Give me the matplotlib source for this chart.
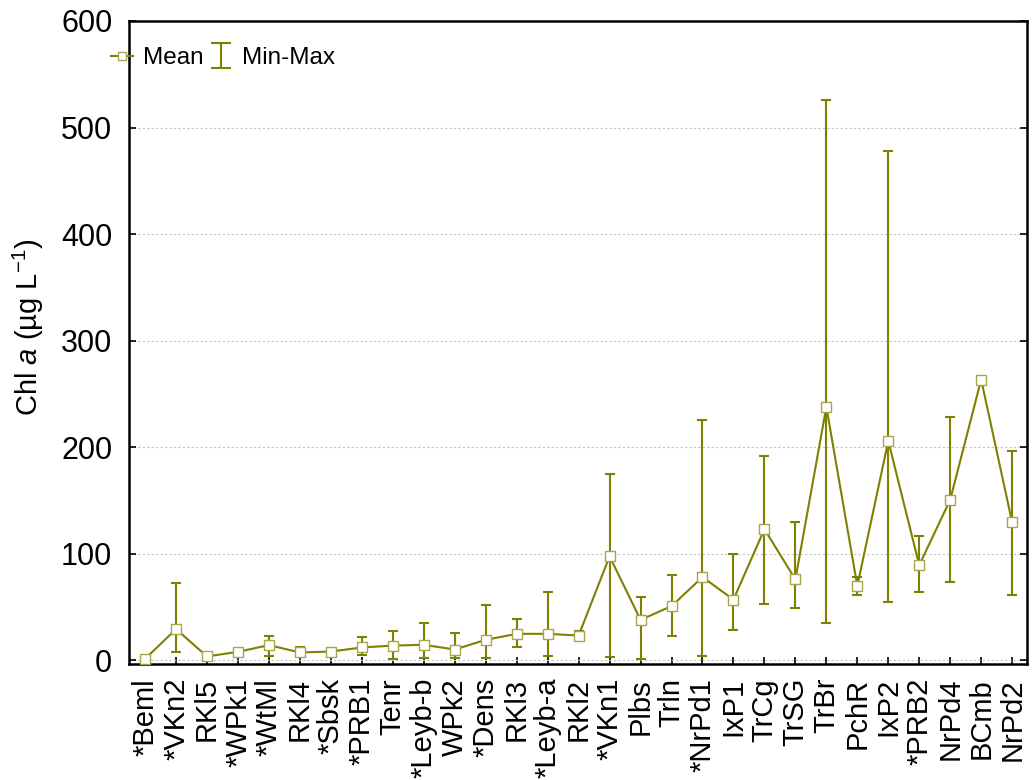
import numpy as np
import matplotlib
matplotlib.use("Agg")
import matplotlib.pyplot as plt
from matplotlib.lines import Line2D
from matplotlib.legend_handler import HandlerErrorbar

plt.rcParams["font.family"] = ["Liberation Sans", "DejaVu Sans"]
plt.rcParams["mathtext.fontset"] = "custom"
plt.rcParams["mathtext.rm"] = "Liberation Sans"
plt.rcParams["mathtext.it"] = "Liberation Sans:italic"

# sites, ordered as in the figure
sites = ["*Beml", "*VKn2", "RKl5", "*WPk1", "*WtMl", "RKl4", "*Sbsk", "*PRB1",
         "Tenr", "*Leyb-b", "WPk2", "*Dens", "RKl3", "*Leyb-a", "RKl2", "*VKn1",
         "Plbs", "Trln", "*NrPd1", "IxP1", "TrCg", "TrSG", "TrBr", "PchR",
         "IxP2", "*PRB2", "NrPd4", "BCmb", "NrPd2"]
chl_mean = [1.6, 29.4, 3.8, 8.1, 14.4, 7.5, 8.4, 12.2, 14.0, 14.7, 10.3, 19.4,
            25.0, 25.0, 23.4, 97.7, 38.1, 51.0, 78.3, 57.1, 123.2, 76.1, 238.0,
            70.0, 206.0, 89.4, 150.8, 263.6, 129.6]
chl_min = [1.6, 7.8, 3.8, 8.1, 4.0, 5.0, 8.4, 5.0, 1.6, 2.5, 2.5, 1.9,
           13.1, 4.0, 21.0, 3.6, 1.8, 23.0, 4.0, 29.0, 52.8, 49.6, 35.5,
           61.4, 55.0, 64.3, 73.6, 263.6, 61.8]
chl_max = [1.6, 73.0, 3.8, 8.1, 23.4, 13.0, 8.4, 21.9, 27.5, 35.0, 25.6, 51.9,
           38.8, 63.8, 28.0, 174.9, 60.0, 80.4, 225.9, 99.8, 191.4, 129.6, 525.7,
           77.9, 478.0, 117.0, 228.4, 263.6, 196.8]

OLIVE = "#808000"
EDGE = "#a6a64c"

x = np.arange(len(sites))
mean = np.array(chl_mean)
lo = mean - np.array(chl_min)
hi = np.array(chl_max) - mean

fig = plt.figure(figsize=(10.33, 7.8), dpi=100)
ax = fig.add_axes([129 / 1033, 116 / 780, 898 / 1033, 643 / 780])

eb = ax.errorbar(x, mean, yerr=[lo, hi], fmt="none", ecolor=OLIVE,
                 elinewidth=1.5, capsize=3.5, capthick=1.5, zorder=2,
                 label="Min-Max")
ln, = ax.plot(x, mean, "-", color=OLIVE, lw=1.5, marker="s", ms=7,
              mfc="white", mec=EDGE, mew=1.0, zorder=3, label="Mean")

ax.set_xlim(-0.52, len(sites) - 0.52)
ax.set_ylim(-3.3, 600)
ax.set_yticks(np.arange(0, 601, 100))
ax.set_xticks(x)
ax.set_xticklabels(sites, rotation=90, fontsize=21)
ax.tick_params(axis="x", direction="in", length=5, width=1.2, pad=10,
               top=False)
ax.tick_params(axis="y", direction="in", length=5, width=1.2, pad=12,
               labelsize=22, right=True)
for sp in ax.spines.values():
    sp.set_linewidth(1.8)
ax.grid(axis="y", color="#c4c4c4", linestyle=(0, (2, 2)), lw=0.8, zorder=0)
ax.set_axisbelow(True)

ax.set_ylabel("Chl $a$ (µg L$^{\\mathrm{-1}}$)", fontsize=21)
ax.yaxis.set_label_coords(-0.092, 0.523)


def _cap_update(legend_handle, orig_handle):
    legend_handle.update_from(orig_handle)
    if isinstance(legend_handle, Line2D):
        legend_handle.set_markersize(15)


fig.legend([ln, eb], ["Mean", "Min-Max"], loc="center left",
           bbox_to_anchor=(111 / 1033, 1 - 58 / 780), ncol=2, frameon=False,
           fontsize=17.5, handlelength=0.9, handletextpad=0.4,
           columnspacing=0.3, borderpad=0, borderaxespad=0, numpoints=1,
           markerscale=0.85,
           handler_map={type(eb): HandlerErrorbar(update_func=_cap_update)})

fig.savefig("out.png", dpi=100)
